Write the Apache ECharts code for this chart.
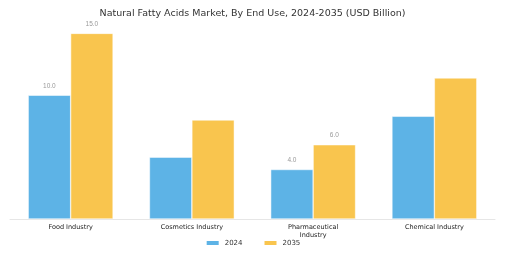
<!DOCTYPE html>
<html>
<head>
<meta charset="utf-8">
<script src="https://cdn.jsdelivr.net/npm/echarts@6/dist/echarts.min.js"></script>
<style>
  html, body { margin: 0; padding: 0; background: #fff; }
  #chart { width: 505px; height: 253px; }
</style>
</head>
<body>
<div id="chart"></div>
<script>
// categories and values (USD Billion)
const categories = ['Food Industry', 'Cosmetics Industry', 'Pharmaceutical\nIndustry', 'Chemical Industry']
const values2024 = [10.0, 5.0, 4.0, 8.3]
const values2035 = [15.0, 8.0, 6.0, 11.4]
// only these bars carry a value label in the picture
const labeled = [true, false, true, false]

const chart = echarts.init(document.getElementById('chart'))

const labelFor = (vals) => vals.map((v, i) => ({
  value: v,
  label: { show: labeled[i] }
}))

const option = {
  animation: false,
  title: {
    text: 'Natural Fatty Acids Market, By End Use, 2024-2035 (USD Billion)',
    left: 'center',
    top: 4,
    textStyle: { fontSize: 9.5, fontWeight: 'normal', color: '#333', fontFamily: 'DejaVu Sans' }
  },
  legend: {
    bottom: 1,
    left: 'center',
    itemWidth: 14,
    itemHeight: 6,
    itemGap: 20,
    icon: 'rect',
    textStyle: { fontSize: 7, color: '#333', fontFamily: 'DejaVu Sans' },
    data: ['2024', '2035']
  },
  grid: { left: 10, right: 10, top: 21, bottom: 34 },
  xAxis: {
    type: 'category',
    data: categories,
    axisTick: { show: false },
    axisLine: { lineStyle: { color: '#e6e6e6' } },
    axisLabel: { fontSize: 6.5, color: '#222', fontFamily: 'DejaVu Sans', margin: 4, lineHeight: 8 }
  },
  yAxis: {
    type: 'value',
    min: 0,
    max: 16,
    show: false
  },
  series: [
    {
      name: '2024',
      type: 'bar',
      barGap: '0%',
      barCategoryGap: '30%',
      itemStyle: { color: '#5DB3E6', borderColor: '#fff', borderWidth: 0.5 },
      label: { position: 'top', fontSize: 6.5, color: '#999', formatter: p => p.value.toFixed(1), distance: 6 },
      data: labelFor(values2024)
    },
    {
      name: '2035',
      type: 'bar',
      itemStyle: { color: '#F9C54E', borderColor: '#fff', borderWidth: 0.5 },
      label: { position: 'top', fontSize: 6.5, color: '#999', formatter: p => p.value.toFixed(1), distance: 6 },
      data: labelFor(values2035)
    }
  ]
}

chart.setOption(option)
</script>
</body>
</html>
